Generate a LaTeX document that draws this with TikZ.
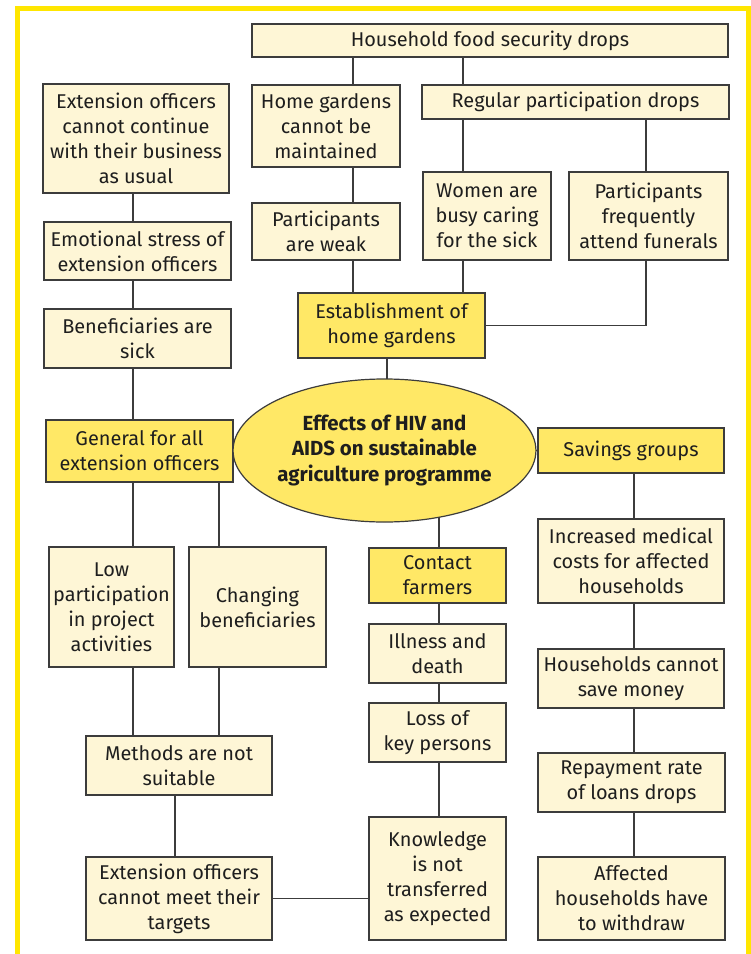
\documentclass[tikz,border=0pt]{standalone}
\usepackage{fontspec}
\setmainfont{Fira Sans}
\usetikzlibrary{shapes.geometric,backgrounds}
\definecolor{cream}{HTML}{FEF6D6}
\definecolor{gold}{HTML}{FFE866}
\definecolor{frameyel}{HTML}{FFE600}
\definecolor{edge}{HTML}{3C3C3C}
\definecolor{ink}{HTML}{1E1E1E}
\tikzset{
  box/.style={draw=edge, fill=cream, line width=1.2bp, inner sep=0pt, align=center, text=ink, font=\fontsize{20}{25}\selectfont},
  keybox/.style={box, fill=gold},
  hub/.style={ellipse, draw=edge, fill=gold, line width=1.2bp, inner sep=0pt, align=center, text=ink, font=\bfseries\fontsize{20.5}{25.5}\selectfont},
  link/.style={draw=edge, line width=1.2bp},
  frame/.style={draw=frameyel, line width=5bp}
}
\newcommand\placebox[7]{\node[#2, minimum width={(#5-#3)*1bp}, minimum height={(#6-#4)*1bp}] (#1) at ({(#3+#5)/2},{(#4+#6)/2}) {#7};}
\begin{document}
\begin{tikzpicture}[x=1bp,y=-1bp]
\useasboundingbox (0,0) rectangle (751,954);
% top block
\placebox{HFS}{box}{252}{24}{728}{57}{Household food security drops}
\placebox{HG}{box}{252}{85}{400}{167}{Home gardens\\cannot be\\maintained}
\placebox{RPD}{box}{422}{85}{729}{119}{Regular participation drops}
\placebox{PW}{box}{252}{203}{400}{260}{Participants\\are weak}
\placebox{WB}{box}{423}{172}{551}{260}{Women are\\busy caring\\for the sick}
\placebox{PF}{box}{569}{172}{728}{260}{Participants\\frequently\\attend funerals}
\placebox{EH}{keybox}{298}{293}{485}{358}{Establishment of\\home gardens}
% left column
\placebox{EOC}{box}{43}{84}{229}{193}{Extension officers\\cannot continue\\with their business\\as usual}
\placebox{ES}{box}{44}{222}{231}{280}{Emotional stress of\\extension officers}
\placebox{BS}{box}{44}{309}{231}{368}{Beneficiaries are\\sick}
\placebox{GA}{keybox}{46}{420}{233}{482}{General for all\\extension officers}
\placebox{LP}{box}{49}{547}{174}{667}{Low\\participation\\in project\\activities}
\placebox{CB}{box}{189}{547}{326}{667}{Changing\\beneficiaries}
\placebox{MN}{box}{86}{736}{272}{795}{Methods are not\\suitable}
\placebox{ET}{box}{86}{857}{272}{940}{Extension officers\\cannot meet their\\targets}
% hub
\node[hub, minimum width=263bp, minimum height=143bp] (EL) at (384.5,450.5) {Effects of HIV and\\AIDS on sustainable\\agriculture programme};
% centre column
\placebox{CF}{keybox}{369}{548}{506}{603}{Contact\\farmers}
\placebox{ID}{box}{369}{624}{506}{683}{Illness and\\death}
\placebox{LK}{box}{369}{703}{506}{762}{Loss of\\key persons}
\placebox{KN}{box}{369}{817}{506}{940}{Knowledge\\is not\\transferred\\as expected}
% right column
\placebox{SG}{keybox}{538}{428}{724}{473}{Savings groups}
\placebox{IM}{box}{538}{519}{724}{603}{Increased medical\\costs for affected\\households}
\placebox{HC}{box}{538}{649}{724}{708}{Households cannot\\save money}
\placebox{RR}{box}{538}{753}{725}{812}{Repayment rate\\of loans drops}
\placebox{AH}{box}{538}{857}{725}{940}{Affected\\households have\\to withdraw}
% connectors
\begin{scope}[on background layer]
\fill[white] (0,0) rectangle (751,954);
\draw[link] (HFS.south -| 353,0) -- (HG.north -| 353,0);
\draw[link] (HFS.south -| 463,0) -- (RPD.north -| 463,0);
\draw[link] (HG.south -| 353,0) -- (PW.north -| 353,0);
\draw[link] (RPD.south -| 463,0) -- (WB.north -| 463,0);
\draw[link] (RPD.south -| 646,0) -- (PF.north -| 646,0);
\draw[link] (PW.south -| 353,0) -- (EH.north -| 353,0);
\draw[link] (WB.south -| 463,0) -- (EH.north -| 463,0);
\draw[link] (PF.south -| 646,0) |- (EH.east);
\draw[link] (EH.south -| 387,0) -- (EL.center -| 387,0);
\draw[link] (EOC.south -| 133,0) -- (ES.north -| 133,0);
\draw[link] (ES.south -| 133,0) -- (BS.north -| 133,0);
\draw[link] (BS.south -| 133,0) -- (GA.north -| 133,0);
\draw[link] (GA.east) -- (EL.center);
\draw[link] (EL.center) -- (SG.west);
\draw[link] (GA.south -| 133,0) -- (LP.north -| 133,0);
\draw[link] (GA.south -| 219,0) -- (CB.north -| 219,0);
\draw[link] (LP.south -| 133,0) -- (MN.north -| 133,0);
\draw[link] (CB.south -| 219,0) -- (MN.north -| 219,0);
\draw[link] (MN.south -| 175,0) -- (ET.north -| 175,0);
\draw[link] (ET.east) -- (ET.east -| KN.west);
\draw[link] (EL.center -| 439,0) -- (CF.north -| 439,0);
\draw[link] (CF.south -| 439,0) -- (ID.north -| 439,0);
\draw[link] (ID.south -| 439,0) -- (LK.north -| 439,0);
\draw[link] (LK.south -| 439,0) -- (KN.north -| 439,0);
\draw[link] (SG.south -| 634,0) -- (IM.north -| 634,0);
\draw[link] (IM.south -| 634,0) -- (HC.north -| 634,0);
\draw[link] (HC.south -| 634,0) -- (RR.north -| 634,0);
\draw[link] (RR.south -| 634,0) -- (AH.north -| 634,0);
\end{scope}
% yellow frame
\draw[frame] (17.5,954) -- (17.5,8.5) -- (748.5,8.5) -- (748.5,954);
\end{tikzpicture}
\end{document}
